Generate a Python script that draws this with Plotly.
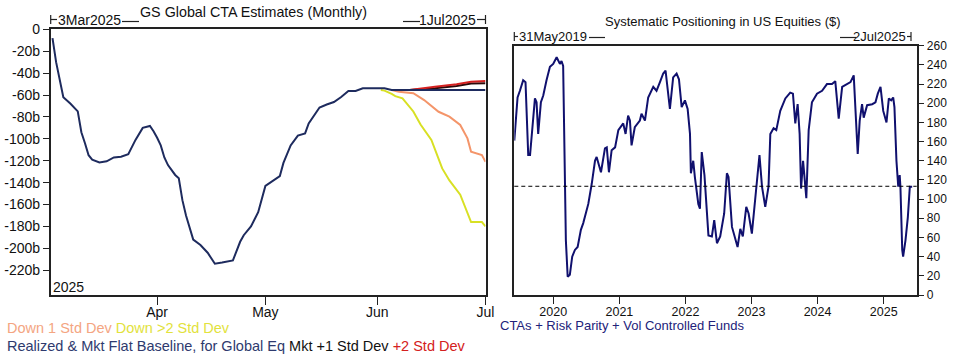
import plotly.graph_objects as go

# ---------------- Left chart data: GS Global CTA Estimates (Monthly) ----------------
realized_dates = ['2025-03-03', '2025-03-04', '2025-03-06', '2025-03-08', '2025-03-10', '2025-03-11',
                  '2025-03-12', '2025-03-13', '2025-03-14', '2025-03-16', '2025-03-18', '2025-03-20',
                  '2025-03-22', '2025-03-24', '2025-03-26', '2025-03-28', '2025-03-30', '2025-03-31',
                  '2025-04-01', '2025-04-02', '2025-04-03', '2025-04-04', '2025-04-06', '2025-04-07',
                  '2025-04-08', '2025-04-09', '2025-04-11', '2025-04-13', '2025-04-15', '2025-04-17',
                  '2025-04-19', '2025-04-22', '2025-04-24', '2025-04-25', '2025-04-27', '2025-04-29',
                  '2025-05-01', '2025-05-03', '2025-05-05', '2025-05-06', '2025-05-08', '2025-05-10',
                  '2025-05-12', '2025-05-13', '2025-05-15', '2025-05-16', '2025-05-18', '2025-05-20',
                  '2025-05-22', '2025-05-24', '2025-05-26', '2025-05-28', '2025-06-03', '2025-06-05',
                  '2025-07-01']
realized_values = [-8, -30, -62, -68, -75, -94,
                   -104, -115, -119, -121.5, -120.5, -117,
                   -116.3, -114, -101, -90, -88.3, -93,
                   -99, -106, -117, -124, -133, -136,
                   -156, -170, -192, -197, -204, -214,
                   -213, -211, -194, -188, -180, -167,
                   -143, -138.5, -134, -122, -106, -97,
                   -95, -86, -75.5, -71.4, -68.7, -66.4,
                   -61.8, -56.3, -56.3, -53.9, -53.9, -55.5,
                   -55.5]

down2_dates = ['2025-06-02', '2025-06-03', '2025-06-05', '2025-06-06', '2025-06-08', '2025-06-11',
               '2025-06-13', '2025-06-16', '2025-06-19', '2025-06-21', '2025-06-24', '2025-06-27',
               '2025-06-30', '2025-07-01']
down2_values = [-55.5, -56, -59, -61, -63, -75, -87, -101, -127, -138, -151, -176, -176, -180]

down1_dates = ['2025-06-05', '2025-06-07', '2025-06-11', '2025-06-14', '2025-06-18', '2025-06-21',
               '2025-06-24', '2025-06-26', '2025-06-27', '2025-06-30', '2025-07-01']
down1_values = [-55.5, -57, -58.4, -64.6, -75.3, -79.8, -87.4, -99.6, -111.8, -114.8, -121]

up_dates = ['2025-06-05', '2025-06-10', '2025-06-17', '2025-06-23', '2025-06-27', '2025-07-01']
up1_values = [-55.5, -55.5, -53.8, -51.8, -49.6, -49.2]
up2_values = [-55.5, -55.4, -52.4, -50.2, -47.8, -47.2]

left_xtick_vals = ['2025-04-01', '2025-05-01', '2025-06-01', '2025-07-01']
left_xtick_text = ['Apr', 'May', 'Jun', 'Jul']
left_ytick_vals = [0, -20, -40, -60, -80, -100, -120, -140, -160, -180, -200, -220]
left_ytick_text = ['0', '-20b', '-40b', '-60b', '-80b', '-100b', '-120b', '-140b', '-160b',
                   '-180b', '-200b', '-220b']

# ---------------- Right chart data: Systematic Positioning in US Equities ($) ----------------
pos_dates = ['2019-05-31', '2019-06-07', '2019-06-18', '2019-07-01', '2019-07-19', '2019-08-01',
             '2019-08-16', '2019-08-26', '2019-09-03', '2019-09-22', '2019-10-01', '2019-10-10',
             '2019-10-25', '2019-11-07', '2019-11-25', '2019-12-14', '2020-01-01', '2020-01-20',
             '2020-02-07', '2020-02-16', '2020-02-25', '2020-02-29', '2020-03-06', '2020-03-11',
             '2020-03-21', '2020-04-02', '2020-04-15', '2020-04-30', '2020-05-15', '2020-06-02',
             '2020-06-15', '2020-07-13', '2020-08-01', '2020-08-19', '2020-08-28', '2020-09-21',
             '2020-10-13', '2020-10-23', '2020-11-04', '2020-11-19', '2020-12-08', '2020-12-26',
             '2021-01-22', '2021-02-04', '2021-02-18', '2021-02-28', '2021-03-09', '2021-03-27',
             '2021-04-24', '2021-05-03', '2021-05-22', '2021-06-09', '2021-07-07', '2021-07-25',
             '2021-08-13', '2021-08-31', '2021-09-13', '2021-09-24', '2021-10-07', '2021-10-25',
             '2021-11-13', '2021-11-26', '2021-12-11', '2021-12-29', '2022-01-13', '2022-01-26',
             '2022-01-31', '2022-02-13', '2022-02-22', '2022-03-13', '2022-03-22', '2022-04-01',
             '2022-04-16', '2022-05-08', '2022-05-27', '2022-06-09', '2022-06-24', '2022-07-12',
             '2022-08-03', '2022-08-18', '2022-08-27', '2022-09-15', '2022-10-03', '2022-10-16',
             '2022-10-31', '2022-11-14', '2022-12-03', '2022-12-16', '2023-01-03', '2023-01-22',
             '2023-02-14', '2023-02-28', '2023-03-18', '2023-04-05', '2023-04-15', '2023-05-03',
             '2023-05-18', '2023-06-09', '2023-07-07', '2023-08-03', '2023-08-18', '2023-08-31',
             '2023-09-13', '2023-09-24', '2023-10-02', '2023-10-13', '2023-10-20', '2023-10-31',
             '2023-11-13', '2023-12-01', '2023-12-29', '2024-01-26', '2024-02-22', '2024-03-21',
             '2024-04-08', '2024-04-18', '2024-04-27', '2024-05-16', '2024-06-12', '2024-07-01',
             '2024-07-19', '2024-07-28', '2024-08-10', '2024-08-21', '2024-09-03', '2024-09-12',
             '2024-10-01', '2024-10-29', '2024-11-16', '2024-11-29', '2024-12-14', '2024-12-29',
             '2025-01-16', '2025-01-29', '2025-02-11', '2025-02-22', '2025-03-01', '2025-03-12',
             '2025-03-22', '2025-03-30', '2025-04-03', '2025-04-13', '2025-04-18', '2025-05-01',
             '2025-05-14', '2025-05-25', '2025-06-07']
pos_values = [161, 177, 206, 213, 224, 222,
              146, 146, 165, 205, 201, 168,
              201, 208, 224, 238, 241, 248,
              241, 244, 239, 175, 102, 57,
              19, 21, 40, 47, 50, 68,
              75, 95, 116, 140, 144, 128,
              153, 154, 128, 151, 154, 172,
              179, 168, 187, 182, 156, 175,
              182, 189, 182, 206, 217, 213,
              222, 231, 234, 213, 194, 227,
              231, 225, 196, 203, 194, 168,
              127, 140, 123, 95, 90, 149,
              125, 62, 61, 78, 54, 61,
              85, 127, 123, 71, 57, 50,
              69, 61, 92, 85, 64, 102,
              146, 113, 92, 113, 168, 174,
              172, 192, 205, 211, 210, 179,
              199, 168, 111, 140, 127, 101,
              172, 201, 210, 213, 220, 220,
              223, 206, 184, 217, 220, 222,
              229, 199, 147, 182, 199, 185,
              198, 199, 201, 210, 217, 192,
              180, 205, 203, 206, 196, 140,
              113, 125, 113, 47, 40, 57,
              81, 113, 113]
pos_average = 113.4

right_xtick_vals = ['2020-01-01', '2021-01-01', '2022-01-01', '2023-01-01', '2024-01-01', '2025-01-01']
right_xtick_text = ['2020', '2021', '2022', '2023', '2024', '2025']

# ---------------- Styling ----------------
W, H = 955, 360
FONT = 'Liberation Sans, Arial, sans-serif'
AX = '#222222'
NAVY_L = '#1E2B5E'
NAVY_R = '#10106E'
YELLOW = '#D8E024'
SALMON = '#F4956A'
RED = '#D42020'
DARK = '#2A0A0A'
LF = 14      # left chart font size
RF = 13      # right chart font size


def px(x):
    return x / W


def py(y):
    return 1 - y / H


fig = go.Figure()

# Left chart traces
fig.add_trace(go.Scatter(x=down2_dates, y=down2_values, mode='lines', name='Down >2 Std Dev',
                         line=dict(color=YELLOW, width=2), xaxis='x', yaxis='y'))
fig.add_trace(go.Scatter(x=down1_dates, y=down1_values, mode='lines', name='Down 1 Std Dev',
                         line=dict(color=SALMON, width=2), xaxis='x', yaxis='y'))
fig.add_trace(go.Scatter(x=up_dates, y=up1_values, mode='lines', name='Mkt +1 Std Dev',
                         line=dict(color=DARK, width=2), xaxis='x', yaxis='y'))
fig.add_trace(go.Scatter(x=up_dates, y=up2_values, mode='lines', name='+2 Std Dev',
                         line=dict(color=RED, width=2), xaxis='x', yaxis='y'))
fig.add_trace(go.Scatter(x=realized_dates, y=realized_values, mode='lines',
                         name='Realized & Mkt Flat Baseline, for Global Eq',
                         line=dict(color=NAVY_L, width=2), xaxis='x', yaxis='y'))

# Right chart trace
fig.add_trace(go.Scatter(x=pos_dates, y=pos_values, mode='lines',
                         name='CTAs + Risk Parity + Vol Controlled Funds',
                         line=dict(color=NAVY_R, width=2), xaxis='x2', yaxis='y2'))

axis_common = dict(showline=True, linecolor=AX, linewidth=1.5, mirror=True, showgrid=False,
                   zeroline=False, ticks='outside', tickcolor=AX, tickwidth=1)

fig.update_layout(
    width=W, height=H,
    margin=dict(l=0, r=0, t=0, b=0, autoexpand=False),
    paper_bgcolor='white', plot_bgcolor='white',
    showlegend=False,
    font=dict(family=FONT, color='#111111'),
    xaxis=dict(domain=[px(50.7), px(485.5)], anchor='y', type='date',
               range=['2025-03-02 12:00', '2025-07-01'],
               tickvals=left_xtick_vals, ticktext=left_xtick_text, ticklen=8,
               ticklabelstandoff=-5,
               tickfont=dict(size=LF, color='#111111'), **axis_common),
    yaxis=dict(domain=[py(295), py(29.3)], anchor='x', range=[-242.6, 0],
               tickvals=left_ytick_vals, ticktext=left_ytick_text, ticklen=6,
               tickfont=dict(size=LF, color='#111111'), **axis_common),
    xaxis2=dict(domain=[px(514.3), px(916.7)], anchor='y2', type='date',
                range=['2019-05-31', '2025-07-02'],
                tickvals=right_xtick_vals, ticktext=right_xtick_text, ticklen=7,
                ticklabelstandoff=-3,
                tickfont=dict(size=12.5, color='#111111'), **axis_common),
    yaxis2=dict(domain=[py(295), py(45.7)], anchor='x2', side='right', range=[0, 260],
                dtick=20, tick0=0, ticklen=6,
                tickfont=dict(size=12, color='#111111'), **axis_common),
)

# Average reference line on right chart
fig.add_shape(type='line', xref='x2 domain', yref='y2', x0=0, x1=1, y0=pos_average, y1=pos_average,
              line=dict(color='#000000', width=1, dash='4px,3px'))


# Range markers (bracket lines)
def seg(x0, y0, x1, y1, w=1.2):
    fig.add_shape(type='line', xref='paper', yref='paper', x0=px(x0), y0=py(y0), x1=px(x1), y1=py(y1),
                  line=dict(color=AX, width=w))


# left: |-3Mar2025--   --1Jul2025-|
seg(50.7, 15, 50.7, 24)
seg(50.7, 19.5, 57, 19.5)
seg(122, 21.5, 139, 21.5)
seg(403, 21.5, 420, 21.5)
seg(477, 19.5, 485.5, 19.5)
seg(485.5, 15, 485.5, 24)
# right: |-31May2019--   --2Jul2025-|
seg(514.3, 32, 514.3, 41)
seg(514.3, 36.5, 518, 36.5)
seg(589, 37.5, 605, 37.5)
seg(840, 37.5, 856, 37.5)
seg(907, 36.5, 911, 36.5)
seg(911, 32, 911, 41)


def txt(x, y, s, size, color='#111111', xanchor='left'):
    fig.add_annotation(xref='paper', yref='paper', x=px(x), y=py(y), text=s, showarrow=False,
                       xanchor=xanchor, yanchor='middle', borderpad=0,
                       font=dict(family=FONT, size=size, color=color))


txt(254, 11.5, 'GS Global CTA Estimates (Monthly)', 14.3, xanchor='center')
txt(57, 19.5, '3Mar2025', LF)
txt(477, 19.5, '1Jul2025', LF, xanchor='right')
txt(52, 287, '2025', LF)

txt(723, 21.5, 'Systematic Positioning in US Equities ($)', RF, xanchor='center')
txt(518, 36.5, '31May2019', RF)
txt(907, 36.5, '2Jul2025', RF, xanchor='right')

# Legends (coloured text)
txt(6, 328, '<span style="color:#F4A582">Down 1 Std Dev</span> '
            '<span style="color:#E2E23C">Down &gt;2 Std Dev</span>', 14.5)
txt(6, 346, '<span style="color:#2E3A6E">Realized &amp; Mkt Flat Baseline, for Global Eq</span> '
            '<span style="color:#111111">Mkt +1 Std Dev</span> '
            '<span style="color:#D42020">+2 Std Dev</span>', 14.5)
txt(499, 325, 'CTAs + Risk Parity + Vol Controlled Funds', RF, color='#22227A')

fig.write_html('out.html', config={'displayModeBar': False},
               post_script="document.body.style.margin='0px';")
